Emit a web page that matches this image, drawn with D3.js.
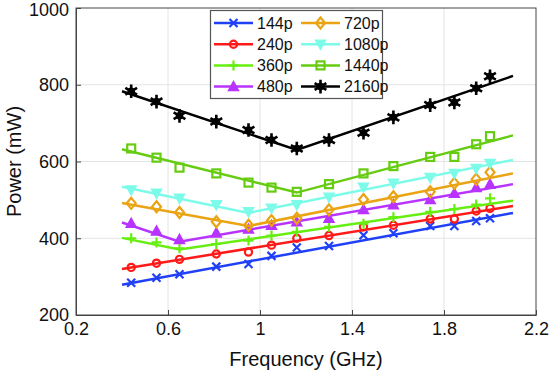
<!DOCTYPE html>
<html>
<head>
<meta charset="utf-8">
<script src="https://cdn.jsdelivr.net/npm/d3@7.9.0/dist/d3.min.js"></script>
<style>
  body { margin: 0; background: #fff; }
  svg { font-family: "Liberation Sans", Arial, sans-serif; }
</style>
</head>
<body>
<svg width="550" height="373"></svg>
<script>
// measured frequencies (GHz)
const freqs = [0.44, 0.55, 0.65, 0.81, 0.95, 1.05, 1.16, 1.3, 1.45, 1.58, 1.74, 1.845, 1.94, 2.0];

const labels = ['144p', '240p', '360p', '480p', '720p', '1080p', '1440p', '2160p'];

// measured power (mW), one array per resolution
const p144 = [284, 297, 306, 326, 333, 354, 376, 380, 408, 413, 432, 432, 445, 452];
const p240 = [324, 335, 345, 359, 364, 382, 400, 407, 430, 434, 450, 450, 471, 478];
const p360 = [400, 389, 374, 385, 394, 407, 417, 430, 438, 455, 469, 476, 488, 504];
const p480 = [439, 419, 397, 414, 424, 434, 443, 452, 475, 487, 501, 517, 532, 541];
const p720 = [491, 482, 467, 443, 434, 446, 452, 474, 501, 508, 521, 543, 554, 572];
const p1080 = [526, 517, 504, 487, 469, 478, 487, 507, 533, 543, 558, 569, 582, 595];
const p1440 = [634, 610, 584, 569, 545, 532, 521, 541, 569, 588, 612, 612, 645, 666];
const p2160 = [783, 756, 719, 704, 682, 656, 634, 656, 675, 715, 747, 754, 791, 822];

// piecewise fitted lines: knot frequencies and fitted power at knots
const fitX144 = [0.4, 2.1], fitY144 = [279, 466];
const fitX240 = [0.4, 2.1], fitY240 = [320, 484];
const fitX360 = [0.4, 0.65, 2.1], fitY360 = [401, 371, 498];
const fitX480 = [0.4, 0.65, 2.1], fitY480 = [441, 391, 541];
const fitX720 = [0.4, 0.95, 2.1], fitY720 = [492, 432, 569];
const fitX1080 = [0.4, 0.95, 2.1], fitY1080 = [534, 466, 604];
const fitX1440 = [0.4, 1.16, 2.1], fitY1440 = [632, 519, 668];
const fitX2160 = [0.4, 1.16, 2.1], fitY2160 = [783, 630, 823];

const xTicks = [0.2, 0.6, 1, 1.4, 1.8, 2.2];
const yTicks = [200, 400, 600, 800, 1000];

const colors = ['#2040f8', '#ff1a1a', '#66ee11', '#b833ff', '#eaa413', '#7dfbe9', '#66cc11', '#000000'];
const markers = ['x', 'circle', 'plus', 'tri', 'diamond', 'trid', 'square', 'star'];
const values = [p144, p240, p360, p480, p720, p1080, p1440, p2160];
const fitsX = [fitX144, fitX240, fitX360, fitX480, fitX720, fitX1080, fitX1440, fitX2160];
const fitsY = [fitY144, fitY240, fitY360, fitY480, fitY720, fitY1080, fitY1440, fitY2160];

const svg = d3.select('svg');
const x = d3.scaleLinear().domain([0.2, 2.2]).range([76, 536]);
const y = d3.scaleLinear().domain([200, 1000]).range([315, 8]);

// grid
svg.append('g').selectAll('line').data(xTicks.slice(1, -1)).join('line')
  .attr('x1', d => x(d)).attr('x2', d => x(d)).attr('y1', y(200)).attr('y2', y(1000))
  .attr('stroke', '#e4e4e4').attr('stroke-width', 1);
svg.append('g').selectAll('line').data(yTicks.slice(1, -1)).join('line')
  .attr('y1', d => y(d)).attr('y2', d => y(d)).attr('x1', x(0.2)).attr('x2', x(2.2))
  .attr('stroke', '#e4e4e4').attr('stroke-width', 1);

// axes
const xAxis = svg.append('g').attr('transform', `translate(0,${y(200)})`)
  .call(d3.axisBottom(x).tickValues(xTicks).tickSizeInner(-5).tickSizeOuter(0).tickPadding(6).tickFormat(d3.format('')));
const yAxis = svg.append('g').attr('transform', `translate(${x(0.2)},0)`)
  .call(d3.axisLeft(y).tickValues(yTicks).tickSizeInner(-5).tickSizeOuter(0).tickPadding(7).tickFormat(d3.format('')));
[xAxis, yAxis].forEach(a => {
  a.selectAll('text').attr('font-size', 18).attr('fill', '#111').attr('font-family', 'Liberation Sans, Arial, sans-serif');
  a.selectAll('line').attr('stroke', '#444');
  a.select('.domain').attr('stroke', '#444');
});
xAxis.selectAll('text').attr('dy', '0.8em');
// keep the top label inside the picture
yAxis.selectAll('.tick text').filter(d => d === 1000).attr('dy', '0.42em');

// box top/right
svg.append('rect').attr('x', x(0.2)).attr('y', y(1000))
  .attr('width', x(2.2) - x(0.2)).attr('height', y(200) - y(1000))
  .attr('fill', 'none').attr('stroke', '#444').attr('stroke-width', 1);

svg.append('text').attr('x', (x(0.2) + x(2.2)) / 2).attr('y', 366)
  .attr('text-anchor', 'middle').attr('font-size', 20).attr('fill', '#111').text('Frequency (GHz)');
svg.append('text').attr('transform', `translate(21,${(y(200) + y(1000)) / 2}) rotate(-90)`)
  .attr('text-anchor', 'middle').attr('font-size', 20).attr('fill', '#111').text('Power (mW)');

function drawMarker(g, type, cx, cy, color) {
  const s = 4;
  if (type === 'x') {
    g.append('path').attr('d', `M${cx - s},${cy - s}L${cx + s},${cy + s}M${cx - s},${cy + s}L${cx + s},${cy - s}`)
      .attr('stroke', color).attr('stroke-width', 2.2);
  } else if (type === 'plus') {
    g.append('path').attr('d', `M${cx - s - 1},${cy}L${cx + s + 1},${cy}M${cx},${cy - s - 1}L${cx},${cy + s + 1}`)
      .attr('stroke', color).attr('stroke-width', 2.2);
  } else if (type === 'circle') {
    g.append('circle').attr('cx', cx).attr('cy', cy).attr('r', 3.6)
      .attr('fill', 'none').attr('stroke', color).attr('stroke-width', 2.2);
  } else if (type === 'square') {
    g.append('rect').attr('x', cx - 4).attr('y', cy - 4).attr('width', 8).attr('height', 8)
      .attr('fill', 'none').attr('stroke', color).attr('stroke-width', 2.2);
  } else if (type === 'diamond') {
    g.append('path').attr('d', `M${cx},${cy - 5.5}L${cx + 4.5},${cy}L${cx},${cy + 5.5}L${cx - 4.5},${cy}Z`)
      .attr('fill', 'none').attr('stroke', color).attr('stroke-width', 2.2);
  } else if (type === 'tri') {
    g.append('path').attr('d', `M${cx},${cy - 5}L${cx + 5},${cy + 4}L${cx - 5},${cy + 4}Z`)
      .attr('fill', color).attr('stroke', color).attr('stroke-width', 1.5);
  } else if (type === 'trid') {
    g.append('path').attr('d', `M${cx},${cy + 5}L${cx + 5},${cy - 4}L${cx - 5},${cy - 4}Z`)
      .attr('fill', color).attr('stroke', color).attr('stroke-width', 1.5);
  } else if (type === 'star') {
    g.append('path').attr('d', d3.symbol().type(d3.symbolAsterisk).size(130)())
      .attr('transform', `translate(${cx},${cy})`).attr('stroke', color).attr('stroke-width', 2.6);
    g.append('circle').attr('cx', cx).attr('cy', cy).attr('r', 3.8).attr('fill', color);
  }
}

// fitted lines and markers
const line = d3.line().x(d => x(d[0])).y(d => y(d[1]));
values.forEach((vals, i) => {
  const g = svg.append('g');
  g.append('path').datum(fitsX[i].map((f, k) => [f, fitsY[i][k]]))
    .attr('d', line).attr('fill', 'none').attr('stroke', colors[i]).attr('stroke-width', 2.5);
  vals.forEach((v, k) => drawMarker(g, markers[i], x(freqs[k]), y(v), colors[i]));
});

// legend
const leg = svg.append('g');
leg.append('rect').attr('x', 210.5).attr('y', 10.5).attr('width', 172).attr('height', 88)
  .attr('fill', '#fff').attr('stroke', '#555').attr('stroke-width', 1.2);
labels.forEach((lab, i) => {
  const col = Math.floor(i / 4), row = i % 4;
  const lx = col === 0 ? 214 : 301;
  const ly = 23 + row * 21.2;
  const g = leg.append('g');
  g.append('line').attr('x1', lx).attr('x2', lx + 39).attr('y1', ly).attr('y2', ly)
    .attr('stroke', colors[i]).attr('stroke-width', 2.5);
  drawMarker(g, markers[i], lx + 19.5, ly, colors[i]);
  g.append('text').attr('x', lx + 43).attr('y', ly).attr('dy', '0.36em')
    .attr('font-size', 16).attr('fill', '#111').text(lab);
});
</script>
</body>
</html>
